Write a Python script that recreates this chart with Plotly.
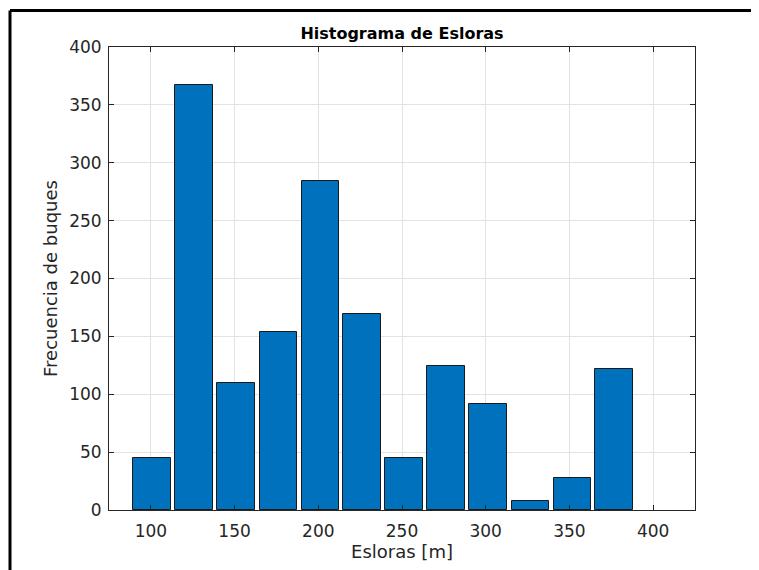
import plotly.graph_objects as go

bin_centers = [100.9, 126.0, 151.1, 176.2, 201.3, 226.3, 251.4, 276.5, 301.6, 326.7, 351.8, 376.8]
counts = [45, 367, 110, 154, 284, 169, 45, 124, 92, 8, 28, 122]
x_ticks = [100, 150, 200, 250, 300, 350, 400]
y_ticks = [0, 50, 100, 150, 200, 250, 300, 350, 400]

FONT = "DejaVu Sans, sans-serif"
AX = "#262626"

fig = go.Figure()
fig.add_trace(go.Bar(
    x=bin_centers, y=counts, width=22.6,
    marker=dict(color="#0072BD", line=dict(color="#1a1a1a", width=1)),
    showlegend=False,
))

# page body has an 8px margin, so the figure is offset by (8, 8)
fig.update_layout(
    width=751, height=562,
    margin=dict(l=101, r=64, t=39, b=60),
    paper_bgcolor="white", plot_bgcolor="white",
    title=dict(text="<b>Histograma de Esloras</b>", x=(101 + 293) / 751, xanchor="center",
               y=1 - 25 / 562, yanchor="middle",
               font=dict(family=FONT, size=16, color="black")),
    font=dict(family=FONT, size=17, color=AX),
    bargap=0,
)
fig.update_xaxes(
    range=[75, 425], tickvals=x_ticks, ticktext=[str(v) for v in x_ticks],
    showgrid=True, gridcolor="#e3e3e3", gridwidth=1,
    showline=True, linecolor=AX, linewidth=1, mirror="ticks",
    ticks="inside", ticklen=5, tickcolor=AX, tickfont=dict(size=17, color=AX),
    ticklabelstandoff=6,
    zeroline=False,
    title=dict(text="Esloras [m]", font=dict(size=18, color=AX), standoff=4),
)
fig.update_yaxes(
    range=[0, 400], tickvals=y_ticks, ticktext=[str(v) for v in y_ticks],
    showgrid=True, gridcolor="#e3e3e3", gridwidth=1,
    showline=True, linecolor=AX, linewidth=1, mirror="ticks",
    ticks="inside", ticklen=5, tickcolor=AX, tickfont=dict(size=17, color=AX),
    ticklabelstandoff=3,
    zeroline=False,
    title=dict(text="Frecuencia de buques", font=dict(size=18, color=AX), standoff=6),
)
# outer black frame (left and top edges visible)
fig.add_shape(type="line", xref="paper", yref="paper",
              x0=(10 - 109) / 586, y0=(510 - 575) / 463, x1=(10 - 109) / 586, y1=(510 - 10.5) / 463,
              line=dict(color="black", width=3))
fig.add_shape(type="line", xref="paper", yref="paper",
              x0=(10 - 109) / 586, y0=(510 - 10.5) / 463, x1=(765 - 109) / 586, y1=(510 - 10.5) / 463,
              line=dict(color="black", width=3))

fig.write_html("out.html")
